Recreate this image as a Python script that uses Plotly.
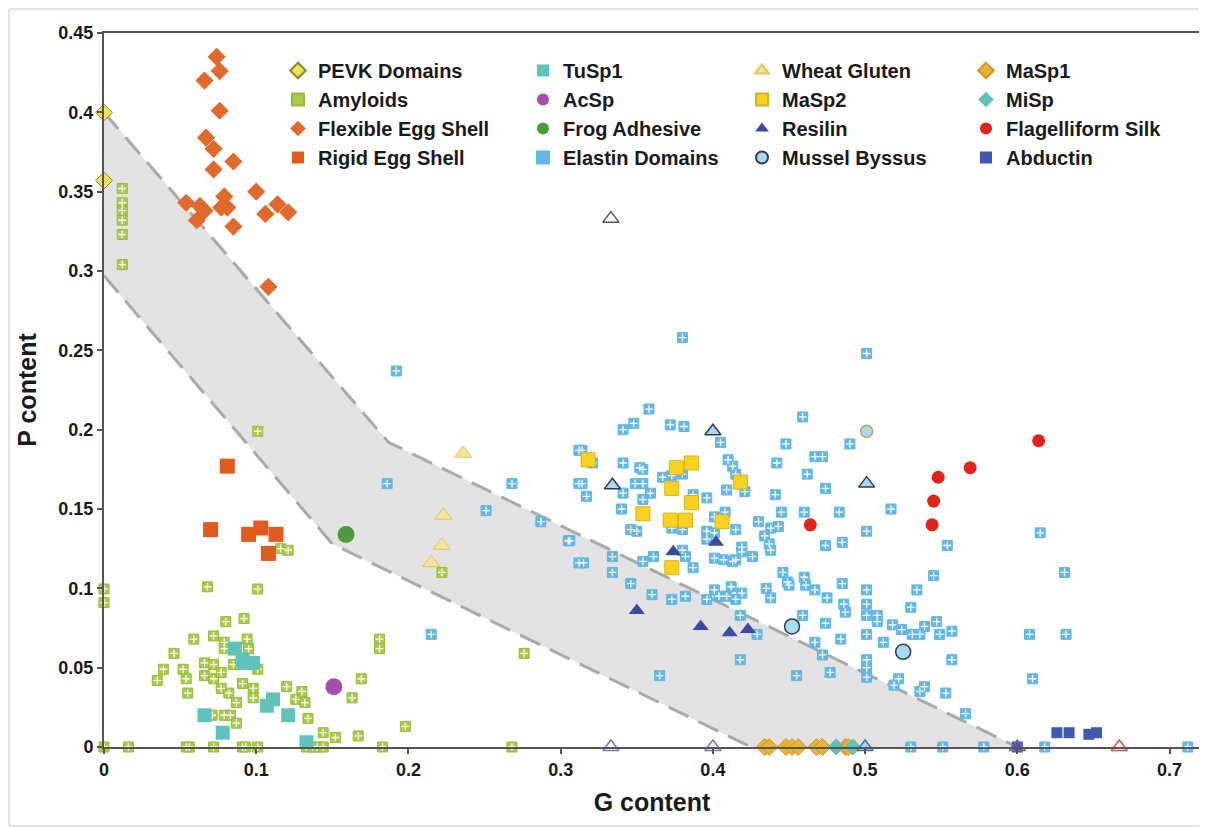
import plotly.graph_objects as go

# ---------------- data ----------------
pevk_x = [0.0, 0.0]
pevk_y = [0.400, 0.357]

amy_x = [0.012, 0.012, 0.012, 0.012, 0.012, 0.012,
         0.101, 0.116, 0.121, 0.0, 0.0, 0.068, 0.101, 0.222, 0.276,
         0.080, 0.092, 0.059, 0.072, 0.079, 0.079, 0.094, 0.095,
         0.046, 0.066, 0.072, 0.085, 0.101, 0.039, 0.052, 0.054,
         0.035, 0.066, 0.072, 0.077, 0.077, 0.082, 0.055, 0.091,
         0.098, 0.098, 0.087, 0.120, 0.130, 0.126, 0.132,
         0.169, 0.163, 0.181, 0.181, 0.134, 0.144, 0.152, 0.167, 0.198,
         0.071, 0.079, 0.083, 0.087,
         0.0, 0.016, 0.054, 0.056, 0.072, 0.091, 0.093, 0.101, 0.133, 0.137, 0.140, 0.144, 0.183, 0.268]
amy_y = [0.352, 0.343, 0.338, 0.332, 0.323, 0.304,
         0.199, 0.125, 0.124, 0.0996, 0.091, 0.101, 0.0996, 0.110, 0.059,
         0.079, 0.081, 0.068, 0.070, 0.066, 0.062, 0.068, 0.062,
         0.059, 0.053, 0.052, 0.052, 0.049, 0.049, 0.049, 0.043,
         0.042, 0.045, 0.043, 0.047, 0.037, 0.034, 0.034, 0.040,
         0.037, 0.031, 0.028, 0.038, 0.035, 0.030, 0.028,
         0.043, 0.031, 0.068, 0.062, 0.018, 0.009, 0.006, 0.007, 0.013,
         0.020, 0.020, 0.020, 0.015,
         0, 0, 0, 0, 0, 0, 0, 0, 0, 0, 0, 0, 0, 0]

flex_x = [0.074, 0.076, 0.066, 0.076, 0.067, 0.072, 0.085, 0.072, 0.100, 0.079,
          0.054, 0.063, 0.066, 0.077, 0.081, 0.106, 0.114, 0.121, 0.061, 0.085, 0.108]
flex_y = [0.435, 0.426, 0.420, 0.401, 0.384, 0.377, 0.369, 0.364, 0.350, 0.347,
          0.343, 0.341, 0.338, 0.340, 0.340, 0.336, 0.342, 0.337, 0.332, 0.328, 0.290]

rigid_x = [0.081, 0.070, 0.095, 0.103, 0.113, 0.108]
rigid_y = [0.177, 0.137, 0.134, 0.138, 0.134, 0.122]

tusp_x = [0.086, 0.091, 0.092, 0.098, 0.107, 0.111, 0.121, 0.066, 0.078, 0.133]
tusp_y = [0.062, 0.055, 0.053, 0.053, 0.026, 0.030, 0.020, 0.020, 0.009, 0.003]

acsp_x = [0.151]
acsp_y = [0.038]

frog_x = [0.159]
frog_y = [0.134]

elastin_x = [0.380, 0.501, 0.358, 0.341, 0.348, 0.372, 0.381, 0.405, 0.459, 0.448,
             0.490, 0.314, 0.321, 0.341, 0.352, 0.354, 0.410, 0.413, 0.415, 0.442,
             0.467, 0.472, 0.462, 0.314, 0.349, 0.354, 0.367, 0.373, 0.380, 0.359,
             0.354, 0.341, 0.317, 0.340, 0.387, 0.396, 0.409, 0.421, 0.441, 0.474,
             0.517, 0.445, 0.460, 0.483, 0.408, 0.401, 0.346, 0.350, 0.373, 0.380,
             0.396, 0.396, 0.401, 0.415, 0.430, 0.434, 0.438, 0.443, 0.437, 0.438,
             0.419, 0.419, 0.426, 0.415, 0.401, 0.407, 0.413, 0.380, 0.382, 0.387,
             0.361, 0.354, 0.334, 0.334, 0.315, 0.306, 0.501, 0.474, 0.485, 0.554,
             0.545, 0.534, 0.530, 0.547, 0.539, 0.557, 0.518, 0.524, 0.531, 0.536,
             0.549, 0.508, 0.508, 0.501, 0.501, 0.501, 0.501, 0.485, 0.486, 0.487,
             0.475, 0.467, 0.461, 0.460, 0.450, 0.449, 0.446, 0.435, 0.438, 0.419,
             0.415, 0.412, 0.409, 0.401, 0.404, 0.396, 0.382, 0.373, 0.360, 0.346,
             0.418, 0.429, 0.459, 0.474, 0.484, 0.467, 0.472, 0.512, 0.501, 0.501,
             0.501, 0.477, 0.455, 0.418, 0.365, 0.522, 0.519, 0.539, 0.536, 0.553,
             0.557, 0.566, 0.530, 0.551, 0.578,
             0.615, 0.631, 0.608, 0.632, 0.610, 0.618, 0.712,
             0.192, 0.186, 0.268, 0.251, 0.287, 0.305, 0.312, 0.312, 0.312, 0.215]
elastin_y = [0.258, 0.248, 0.213, 0.200, 0.204, 0.203, 0.202, 0.192, 0.208, 0.191,
             0.191, 0.187, 0.179, 0.179, 0.176, 0.175, 0.181, 0.177, 0.172, 0.179,
             0.183, 0.183, 0.172, 0.166, 0.166, 0.166, 0.170, 0.171, 0.172, 0.160,
             0.156, 0.160, 0.158, 0.150, 0.159, 0.157, 0.162, 0.161, 0.159, 0.163,
             0.150, 0.148, 0.148, 0.148, 0.148, 0.145, 0.137, 0.136, 0.138, 0.137,
             0.136, 0.131, 0.135, 0.137, 0.142, 0.133, 0.138, 0.139, 0.128, 0.124,
             0.126, 0.123, 0.120, 0.118, 0.119, 0.118, 0.117, 0.124, 0.120, 0.113,
             0.120, 0.117, 0.120, 0.110, 0.116, 0.130, 0.136, 0.127, 0.129, 0.127,
             0.108, 0.099, 0.088, 0.079, 0.076, 0.073, 0.077, 0.074, 0.071, 0.071,
             0.071, 0.083, 0.079, 0.090, 0.083, 0.071, 0.099, 0.103, 0.090, 0.085,
             0.094, 0.099, 0.102, 0.107, 0.102, 0.104, 0.110, 0.100, 0.094, 0.097,
             0.093, 0.101, 0.095, 0.099, 0.095, 0.093, 0.095, 0.093, 0.096, 0.103,
             0.083, 0.071, 0.083, 0.078, 0.068, 0.066, 0.058, 0.066, 0.055, 0.050,
             0.044, 0.047, 0.045, 0.055, 0.045, 0.043, 0.039, 0.038, 0.035, 0.034,
             0.055, 0.021, 0.0, 0.0, 0.0,
             0.135, 0.110, 0.071, 0.071, 0.043, 0.0, 0.0,
             0.237, 0.166, 0.166, 0.149, 0.142, 0.130, 0.187, 0.166, 0.116, 0.071]

wheat_x = [0.236, 0.223, 0.222, 0.215]
wheat_y = [0.185, 0.146, 0.127, 0.116]

masp2_x = [0.318, 0.376, 0.386, 0.373, 0.386, 0.418, 0.354, 0.372, 0.382, 0.406, 0.373]
masp2_y = [0.181, 0.176, 0.179, 0.163, 0.154, 0.167, 0.147, 0.143, 0.143, 0.142, 0.113]

resilin_x = [0.350, 0.392, 0.411, 0.423, 0.374, 0.402]
resilin_y = [0.086, 0.076, 0.072, 0.074, 0.123, 0.129]

mussel_x = [0.452, 0.525]
mussel_y = [0.076, 0.060]

masp1_x = [0.434, 0.437, 0.448, 0.452, 0.456, 0.468, 0.472, 0.487, 0.489]
masp1_y = [0, 0, 0, 0, 0, 0, 0, 0, 0]

misp_x = [0.481, 0.492]
misp_y = [0, 0]

flag_x = [0.464, 0.548, 0.545, 0.544, 0.569, 0.614]
flag_y = [0.140, 0.170, 0.155, 0.140, 0.176, 0.193]

abd_x = [0.600, 0.626, 0.634, 0.647, 0.652]
abd_y = [0.0, 0.009, 0.009, 0.008, 0.009]

# triangles without legend entry
tri_x = [0.333, 0.334, 0.400, 0.501, 0.333, 0.400, 0.500, 0.600, 0.667]
tri_y = [0.333, 0.165, 0.199, 0.166, 0.0, 0.0, 0.0, 0.0, 0.0]
tri_fill = ['white', '#a9d8ef', '#a9d8ef', '#a9d8ef', 'white', 'white', '#a9d8ef', 'rgba(0,0,0,0)', 'white']
tri_line = ['#555555', '#2d3e50', '#2d3e50', '#2d3e50', '#7b76c0', '#7b76c0', '#4a6ab8', '#7b5fb0', '#d9534f']

circ_x = [0.501]
circ_y = [0.199]

# shaded region boundaries
upper_x = [0.0, 0.187, 0.600]
upper_y = [0.400, 0.192, 0.0]
lower_x = [0.0, 0.150, 0.425]
lower_y = [0.297, 0.128, 0.0]

# ---------------- figure ----------------
fig = go.Figure()

fig.add_trace(go.Scatter(x=upper_x + lower_x[::-1], y=upper_y + lower_y[::-1],
                         fill='toself', fillcolor='#e2e2e2', mode='none',
                         showlegend=False, hoverinfo='skip'))
for bx, by in [(upper_x, upper_y), (lower_x, lower_y)]:
    fig.add_trace(go.Scatter(x=bx, y=by, mode='lines',
                             line=dict(color='#a9a9a9', width=3, dash='22px,11px'),
                             showlegend=False, hoverinfo='skip'))


def add(x, y, name, legend, symbol, size, color, lcolor=None, lwidth=0, cross=False):
    fig.add_trace(go.Scatter(
        x=x, y=y, mode='markers', name=name, legend=legend, cliponaxis=False,
        marker=dict(symbol=symbol, size=size, color=color,
                    line=dict(color=lcolor or color, width=lwidth))))
    if cross:
        fig.add_trace(go.Scatter(
            x=x, y=y, mode='markers', showlegend=False, hoverinfo='skip', cliponaxis=False,
            marker=dict(symbol='cross-thin', size=size * 0.55,
                        line=dict(color='white', width=1.3))))


# column 1
add(pevk_x, pevk_y, 'PEVK Domains', 'legend', 'diamond', 13, '#f2e15a', '#8a8a30', 1)
add(amy_x, amy_y, 'Amyloids', 'legend', 'square', 10, '#a9cb4c', '#98bb3c', 1, cross=True)
add(flex_x, flex_y, 'Flexible Egg Shell', 'legend', 'diamond', 14, '#e2692c')
add(rigid_x, rigid_y, 'Rigid Egg Shell', 'legend', 'square', 15, '#e25b1c')
# column 2
add(tusp_x, tusp_y, 'TuSp1', 'legend2', 'square', 14, '#5fc2bb')
add(acsp_x, acsp_y, 'AcSp', 'legend2', 'circle', 17, '#a54fb0')
add(frog_x, frog_y, 'Frog Adhesive', 'legend2', 'circle', 17, '#4e9a3a')
add(elastin_x, elastin_y, 'Elastin Domains', 'legend2', 'square', 10, '#63b7e6', '#63b7e6', 1, cross=True)
# column 3
add(wheat_x, wheat_y, 'Wheat Gluten', 'legend3', 'triangle-up', 15, '#f6e39a', '#e4c35a', 1)
add(masp2_x, masp2_y, 'MaSp2', 'legend3', 'square', 14, '#f7d31f', '#d9b21a', 1)
add(resilin_x, resilin_y, 'Resilin', 'legend3', 'triangle-up', 14, '#3c4aa0')
add(mussel_x, mussel_y, 'Mussel Byssus', 'legend3', 'circle', 15, '#a8daf2', '#2f4050', 1.5)
# column 4
add(masp1_x, masp1_y, 'MaSp1', 'legend4', 'diamond', 13, '#e9b232', '#d09a20', 1)
add(misp_x, misp_y, 'MiSp', 'legend4', 'diamond', 13, '#5ebfbb')
add(flag_x, flag_y, 'Flagelliform Silk', 'legend4', 'circle', 13, '#e2231a')
add(abd_x, abd_y, 'Abductin', 'legend4', 'square', 11, '#4058b0')

fig.add_trace(go.Scatter(x=tri_x, y=tri_y, mode='markers', showlegend=False, cliponaxis=False,
                         marker=dict(symbol='triangle-up', size=14, color=tri_fill,
                                     line=dict(color=tri_line, width=1.5))))
fig.add_trace(go.Scatter(x=circ_x, y=circ_y, mode='markers', showlegend=False, cliponaxis=False,
                         marker=dict(symbol='circle', size=12, color='#a8daf2',
                                     line=dict(color='#b8a850', width=1.5))))

# page body has an 8px margin: figure sits at (8, 8) in the window
OFF = 8
W, H = 1207 - OFF, 827 - OFF
L, T = 104 - OFF, 33 - OFF
R = W - (1200 - OFF)
B = H - (747 - OFF)
pw, ph = W - L - R, H - T - B

FONT = 'Liberation Sans, Arial'
legfont = dict(family=FONT, size=20, color='#1a1a1a', weight='bold')
col_text_px = [318, 563, 782, 1006]
leg_top_px = 55 - 12
common = dict(font=legfont, bgcolor='rgba(0,0,0,0)', borderwidth=0,
              yanchor='top', xanchor='left', tracegroupgap=0, itemsizing='constant')
for i, key in enumerate(['legend', 'legend2', 'legend3', 'legend4']):
    xp = (col_text_px[i] - OFF - 40 - L) / pw
    yp = 1 - (leg_top_px - T) / ph
    fig.update_layout({key: dict(x=xp, y=yp, **common)})

axis_common = dict(showline=True, linecolor='#555555', linewidth=2, mirror=True,
                   ticks='outside', tickcolor='#555555', ticklen=5, tickwidth=1.5,
                   showgrid=False, zeroline=False, automargin=False,
                   tickfont=dict(family=FONT, size=18, color='#1a1a1a', weight='bold'))

fig.update_layout(
    width=W, height=H,
    margin=dict(l=L, r=R, t=T, b=B, autoexpand=False),
    paper_bgcolor='white', plot_bgcolor='white',
    xaxis=dict(range=[0, 0.72], dtick=0.1, tick0=0,
               title=dict(text='G content',
                          font=dict(family=FONT, size=25, color='#1a1a1a', weight='bold')),
               **axis_common),
    yaxis=dict(range=[0, 0.45], dtick=0.05, tick0=0,
               title=dict(text='P content',
                          font=dict(family=FONT, size=25, color='#1a1a1a', weight='bold')),
               **axis_common),
    shapes=[dict(type='rect', xref='paper', yref='paper',
                 x0=-(L - 1) / pw, x1=(W - 1 - L) / pw,
                 y0=-(B - 1) / ph, y1=1 + (T - 1) / ph,
                 line=dict(color='#c8c8c8', width=1), layer='below')],
)

fig.write_html('out.html')
